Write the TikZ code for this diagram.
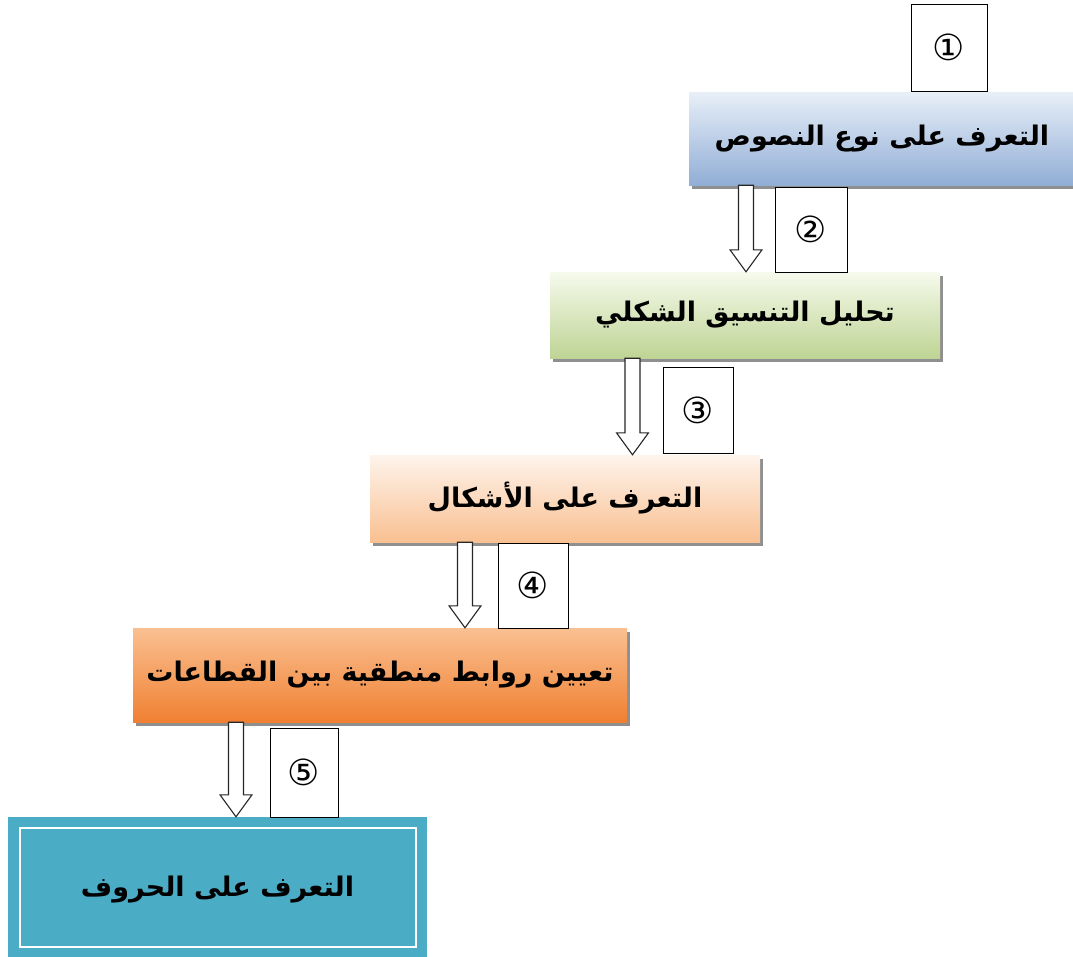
\documentclass[tikz,border=0pt]{standalone}
\usepackage{fontspec}
\usetikzlibrary{shadows,calc}
\TeXXeTstate=1
\newfontfamily\arabicfont[Script=Arabic]{DejaVu Sans}
\newfontfamily\symfont{DejaVu Sans}
\newcommand\flowarrow[3]{%
  \draw[hollowarrow] let \p1=(#2.south), \p2=(#3.north) in
    ({#1-7.5},\y1) -- ({#1+7.5},\y1) -- ({#1+7.5},\y2+22pt) -- ({#1+16},\y2+22pt)
    -- (#1,\y2) -- ({#1-16},\y2+22pt) -- ({#1-7.5},\y2+22pt) -- cycle;}
\tikzset{
  stage/.style={rectangle, draw=none, inner sep=0pt,
    font=\fontsize{27}{32}\selectfont\arabicfont\bfseries,
    drop shadow={shadow xshift=3pt, shadow yshift=-4pt, fill=black!55, opacity=.8}},
  numbox/.style={rectangle, draw=black, line width=1pt, fill=white, inner sep=0pt,
    font=\fontsize{36}{40}\selectfont\symfont},
  hollowarrow/.style={draw=black!85, line width=1.1pt, fill=white, line join=miter}
}
\begin{document}
\begin{tikzpicture}[x=1pt,y=1pt]
\useasboundingbox (0,0) rectangle (1073,-956);
% stage boxes
\node[stage, top color={rgb,255:red,232;green,239;blue,248}, bottom color={rgb,255:red,145;green,174;blue,214},
  minimum width=386, minimum height=93] (b1) at (882,-138.5)
  {\beginR التعرف على نوع النصوص\endR};
\node[stage, top color={rgb,255:red,246;green,250;blue,236}, bottom color={rgb,255:red,190;green,212;blue,148},
  minimum width=390, minimum height=86] (b2) at (745,-315)
  {\beginR تحليل التنسيق الشكلي\endR};
\node[stage, top color={rgb,255:red,254;green,244;blue,236}, bottom color={rgb,255:red,249;green,192;blue,146},
  minimum width=390, minimum height=87] (b3) at (565,-498.5)
  {\beginR التعرف على الأشكال\endR};
\node[stage, top color={rgb,255:red,250;green,192;blue,145}, bottom color={rgb,255:red,240;green,128;blue,50},
  minimum width=494, minimum height=94] (b4) at (380,-675)
  {\beginR تعيين روابط منطقية بين القطاعات\endR};
\node[rectangle, inner sep=0pt, fill={rgb,255:red,75;green,172;blue,198},
  font=\fontsize{27}{32}\selectfont\arabicfont\bfseries,
  minimum width=419, minimum height=145] (b5) at (217.5,-889.5)
  {\beginR التعرف على الحروف\endR};
\draw[white, line width=2.5pt] ($(b5.north west)+(12,-11)$) rectangle ($(b5.north east)+(-11,-130)$);
% number boxes
\node[numbox, minimum width=76, minimum height=87] (n1) at (949,-47.5) {①};
\node[numbox, minimum width=72, minimum height=85] (n2) at (811,-229.5) {②};
\node[numbox, minimum width=70, minimum height=86] (n3) at (698,-410) {③};
\node[numbox, minimum width=70, minimum height=85] (n4) at (533,-585.5) {④};
\node[numbox, minimum width=68, minimum height=89] (n5) at (304,-772.5) {⑤};
% arrows
\flowarrow{746}{b1}{b2}
\flowarrow{632.5}{b2}{b3}
\flowarrow{465}{b3}{b4}
\flowarrow{236}{b4}{b5}
\end{tikzpicture}
\end{document}
